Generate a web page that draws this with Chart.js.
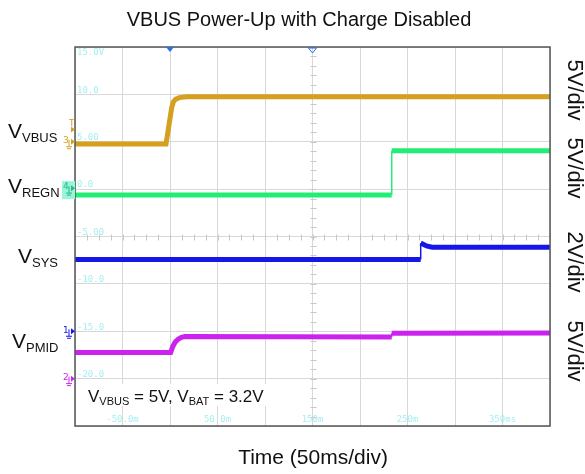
<!DOCTYPE html>
<html>
<head>
<meta charset="utf-8">
<script src="https://cdn.jsdelivr.net/npm/chart.js@4.4.1/dist/chart.umd.min.js"></script>
<style>
  html, body { margin: 0; padding: 0; background: #ffffff; }
  #wrap { width: 585px; height: 474px; }
</style>
</head>
<body>
<div id="wrap"><canvas id="grafico" width="585" height="474"></canvas></div>
<script>
// tiempos en ms, niveles en la escala de pantalla (5 V/div)
const vbusTime = [-100, -4.2, -1, 1.8, 3.5, 6, 10, 17.6, 400]
const vbusLevel = [4.77, 4.77, 6.8, 8.6, 9.2, 9.5, 9.66, 9.76, 9.76]

const regnTime = [-100, 233.4, 233.4, 400]
const regnLevel = [-0.63, -0.63, 4.05, 4.05]

const sysTime = [-100, 263.9, 263.9, 266, 270, 276, 400]
const sysLevel = [-7.42, -7.42, -5.7, -5.8, -6.0, -6.13, -6.13]

const pmidTime = [-100, 0.7, 3, 5.5, 8.5, 12, 16, 233.4, 233.4, 400]
const pmidLevel = [-17.23, -17.23, -16.6, -16.15, -15.85, -15.65, -15.56, -15.6, -15.2, -15.18]

const yTickValues = [15, 10, 5, 0, -5, -10, -15, -20]
const yTickLabels = ["15.0V", "10.0", "5.00", "0.0", "-5.00", "-10.0", "-15.0", "-20.0"]
const xTickValues = [-50, 50, 150, 250, 350]
const xTickLabels = ["-50.0m", "50.0m", "150m", "250m", "350ms"]

const divLabels = ["5V/div", "5V/div", "2V/div", "5V/div"]

const colores = {
    vbus: "#d4a01e",
    regn: "#22ee77",
    sys: "#1616e8",
    pmid: "#cc22ee"
}

function puntos(tiempos, niveles) {
    return tiempos.map((t, i) => ({ x: t, y: niveles[i] }))
}

function serie(label, tiempos, niveles, color) {
    return {
        label: label,
        data: puntos(tiempos, niveles),
        borderColor: color,
        borderWidth: 5,
        pointRadius: 0,
        tension: 0,
        segment: {
            // los escalones verticales se ven finos en el osciloscopio
            borderWidth: ctx => ctx.p0.parsed.x === ctx.p1.parsed.x ? 1.5 : 5
        }
    }
}

// texto con subíndice: V + sub
function textoSub(ctx, x, y, partes, size, subSize) {
    let cx = x
    partes.forEach(p => {
        if (p.sub) {
            ctx.font = `${subSize}px "Liberation Sans", Arial, sans-serif`
            ctx.fillText(p.t, cx, y + size * 0.18)
        } else {
            ctx.font = `${size}px "Liberation Sans", Arial, sans-serif`
            ctx.fillText(p.t, cx, y)
        }
        cx += ctx.measureText(p.t).width
    })
    return cx - x
}

const osciloscopio = {
    id: "osciloscopio",
    beforeDatasetsDraw(chart) {
        const { ctx, chartArea: a, scales: { x, y } } = chart
        ctx.save()
        // marcas menores en los ejes centrales
        ctx.strokeStyle = "#c8c8c8"
        ctx.lineWidth = 1
        const yc = Math.round(y.getPixelForValue(-5)) + 0.5
        for (let t = -100; t <= 400; t += 12.5) {
            const px = Math.round(x.getPixelForValue(t)) + 0.5
            ctx.beginPath(); ctx.moveTo(px, yc - 3); ctx.lineTo(px, yc + 3); ctx.stroke()
        }
        const xc = Math.round(x.getPixelForValue(150)) + 0.5
        for (let v = -25; v <= 15; v += 1) {
            const py = Math.round(y.getPixelForValue(v)) + 0.5
            ctx.beginPath(); ctx.moveTo(xc - 3, py); ctx.lineTo(xc + 3, py); ctx.stroke()
        }
        // etiquetas cian de la pantalla
        ctx.fillStyle = "#a6eef2"
        ctx.font = '9px "DejaVu Sans Mono", monospace'
        ctx.textBaseline = "middle"
        ctx.textAlign = "left"
        yTickValues.forEach((v, i) => {
            let py = y.getPixelForValue(v) - 4
            if (py < a.top + 4) py = a.top + 6
            ctx.fillText(yTickLabels[i], a.left + 2, py)
        })
        ctx.textAlign = "center"
        xTickValues.forEach((t, i) => {
            ctx.fillText(xTickLabels[i], x.getPixelForValue(t), a.bottom - 6)
        })
        ctx.restore()
    },
    afterDatasetsDraw(chart) {
        const { ctx, chartArea: a, scales: { x, y } } = chart
        ctx.save()
        // marco
        ctx.strokeStyle = "#555"
        ctx.lineWidth = 1.5
        ctx.strokeRect(a.left, a.top, a.right - a.left, a.bottom - a.top)

        // disparador arriba
        const tx = x.getPixelForValue(0)
        ctx.fillStyle = "#2a6fe8"
        ctx.beginPath(); ctx.moveTo(tx - 4, a.top); ctx.lineTo(tx + 4, a.top); ctx.lineTo(tx, a.top + 5); ctx.closePath(); ctx.fill()
        const cx = x.getPixelForValue(150)
        ctx.strokeStyle = "#2a6fe8"
        ctx.lineWidth = 1
        ctx.beginPath(); ctx.moveTo(cx - 4, a.top + 1); ctx.lineTo(cx + 4, a.top + 1); ctx.lineTo(cx, a.top + 6); ctx.closePath(); ctx.stroke()

        // marcadores de canal a la izquierda
        function marcador(num, py, color) {
            ctx.fillStyle = color
            ctx.strokeStyle = color
            ctx.font = '9px "DejaVu Sans", sans-serif'
            ctx.textAlign = "left"
            ctx.textBaseline = "middle"
            ctx.fillText(num, a.left - 12, py - 2)
            ctx.lineWidth = 1
            ctx.beginPath()
            ctx.moveTo(a.left - 6, py - 3); ctx.lineTo(a.left - 6, py + 4)
            ctx.moveTo(a.left - 9, py + 4); ctx.lineTo(a.left - 3, py + 4)
            ctx.moveTo(a.left - 8, py + 6); ctx.lineTo(a.left - 4, py + 6)
            ctx.stroke()
            ctx.beginPath(); ctx.moveTo(a.left - 4, py - 4); ctx.lineTo(a.left, py - 1); ctx.lineTo(a.left - 4, py + 2); ctx.closePath(); ctx.fill()
        }
        // T
        ctx.fillStyle = colores.vbus
        ctx.font = '9px "DejaVu Sans", sans-serif'
        ctx.textAlign = "left"
        ctx.textBaseline = "middle"
        ctx.fillText("T", a.left - 6, y.getPixelForValue(7) + 1)
        const tY = y.getPixelForValue(6.3)
        ctx.beginPath(); ctx.moveTo(a.left - 4, tY - 3); ctx.lineTo(a.left, tY); ctx.lineTo(a.left - 4, tY + 3); ctx.closePath(); ctx.fill()

        marcador("3", y.getPixelForValue(5) + 1, colores.vbus)
        // canal 4 con fondo verde
        const g = y.getPixelForValue(0)
        ctx.fillStyle = "#9af5d8"
        ctx.fillRect(a.left - 13, g - 8, 13, 18)
        marcador("4", g, "#22b888")
        marcador("1", y.getPixelForValue(-15) + 1, colores.sys)
        marcador("2", y.getPixelForValue(-20) + 1, colores.pmid)

        // nota de condiciones
        ctx.fillStyle = "#ffffff"
        ctx.fillRect(85, 384, 182, 22)
        ctx.fillStyle = "#111"
        ctx.textAlign = "left"
        ctx.textBaseline = "alphabetic"
        textoSub(ctx, 88, 402, [
            { t: "V" }, { t: "VBUS", sub: true }, { t: " = 5V, V" }, { t: "BAT", sub: true }, { t: " = 3.2V" }
        ], 17, 11)
        ctx.restore()
    },
    afterDraw(chart) {
        const { ctx } = chart
        ctx.save()
        ctx.fillStyle = "#111"
        ctx.textAlign = "center"
        ctx.textBaseline = "middle"
        ctx.font = '20px "Liberation Sans", Arial, sans-serif'
        ctx.fillText("VBUS Power-Up with Charge Disabled", 299, 20)
        ctx.font = '21px "Liberation Sans", Arial, sans-serif'
        ctx.fillText("Time (50ms/div)", 313, 458)

        // nombres de las señales
        ctx.textAlign = "left"
        ctx.textBaseline = "alphabetic"
        textoSub(ctx, 8, 138, [{ t: "V" }, { t: "VBUS", sub: true }], 21, 13)
        textoSub(ctx, 8, 193, [{ t: "V" }, { t: "REGN", sub: true }], 21, 13)
        textoSub(ctx, 18, 263, [{ t: "V" }, { t: "SYS", sub: true }], 21, 13)
        textoSub(ctx, 12, 348, [{ t: "V" }, { t: "PMID", sub: true }], 21, 13)

        // escalas a la derecha, giradas
        const centros = [90, 168, 262, 351]
        ctx.font = '22px "Liberation Sans", Arial, sans-serif'
        ctx.textAlign = "center"
        ctx.textBaseline = "middle"
        divLabels.forEach((txt, i) => {
            ctx.save()
            ctx.translate(574, centros[i])
            ctx.rotate(Math.PI / 2)
            ctx.fillText(txt, 0, 0)
            ctx.restore()
        })
        ctx.restore()
    }
}

const config = {
    type: "line",
    data: {
        datasets: [
            serie("VBUS", vbusTime, vbusLevel, colores.vbus),
            serie("REGN", regnTime, regnLevel, colores.regn),
            serie("SYS", sysTime, sysLevel, colores.sys),
            serie("PMID", pmidTime, pmidLevel, colores.pmid)
        ]
    },
    options: {
        responsive: false,
        animation: false,
        layout: { padding: { left: 75, right: 35, top: 47, bottom: 48 } },
        plugins: {
            legend: { display: false },
            tooltip: { enabled: false },
            title: { display: false }
        },
        scales: {
            x: {
                type: "linear",
                min: -100,
                max: 400,
                ticks: { display: false, stepSize: 50 },
                grid: { color: "#d8d8d8", lineWidth: 1, drawTicks: false },
                border: { display: false }
            },
            y: {
                type: "linear",
                min: -25,
                max: 15,
                ticks: { display: false, stepSize: 5 },
                grid: { color: "#d8d8d8", lineWidth: 1, drawTicks: false },
                border: { display: false }
            }
        }
    },
    plugins: [osciloscopio]
}

const myChart = new Chart(document.getElementById("grafico"), config)
</script>
</body>
</html>
